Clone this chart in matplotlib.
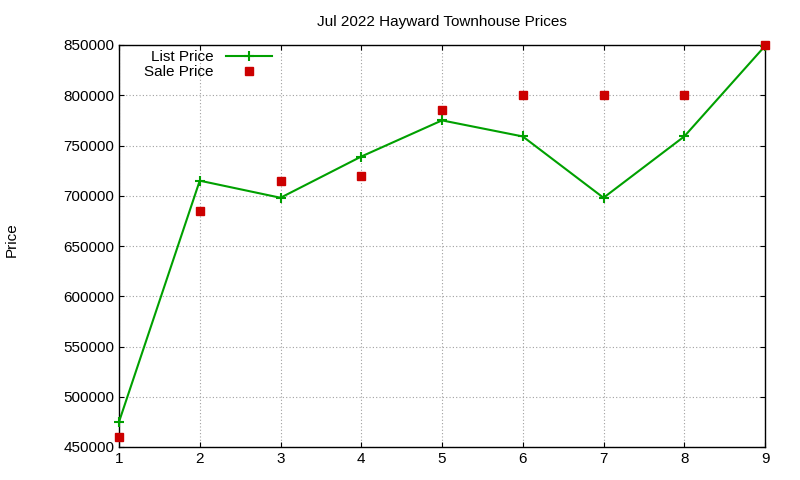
import matplotlib
matplotlib.use('Agg')
import matplotlib.pyplot as plt

plt.rcParams['font.family'] = ['Liberation Sans', 'DejaVu Sans']

x = [1, 2, 3, 4, 5, 6, 7, 8, 9]
list_price = [475000, 715000, 698000, 739000, 775000, 759000, 698000, 759000, 849000]
sale_price = [460000, 685000, 715000, 720000, 785000, 800000, 800000, 800000, 850000]
yticks = list(range(450000, 850001, 50000))

fig = plt.figure(figsize=(8, 4.8), dpi=100)
ax = fig.add_axes([119/800, 33/480, 646/800, 402/480])

ax.plot(x, list_price, color='#00a000', lw=1.5, marker='+', ms=7, mew=1.5,
        label='List Price', clip_on=False, zorder=3)
ax.plot(x, sale_price, ls='none', marker='s', ms=5.5, color='#cc0000',
        label='Sale Price', clip_on=False, zorder=4)

ax.set_xlim(1, 9)
ax.set_ylim(450000, 850000)
ax.set_xticks(x)
ax.set_yticks(yticks)
ax.tick_params(direction='in', top=True, right=True, labelsize=11)
ax.grid(True, color='#a0a0a0', ls=(0, (1, 2)), lw=0.8)
for s in ax.spines.values():
    s.set_linewidth(1)

ax.set_title('Jul 2022 Hayward Townhouse Prices', fontsize=11, pad=14)
fig.text(12/800, 0.5, 'Price', rotation=90, va='center', ha='center', fontsize=11)

ax.legend(loc='upper left', bbox_to_anchor=(0.025, 1.01), frameon=False,
          markerfirst=False, fontsize=11, handlelength=3.0,
          borderaxespad=0.2, labelspacing=0.05)

fig.savefig('out.png', dpi=100)
